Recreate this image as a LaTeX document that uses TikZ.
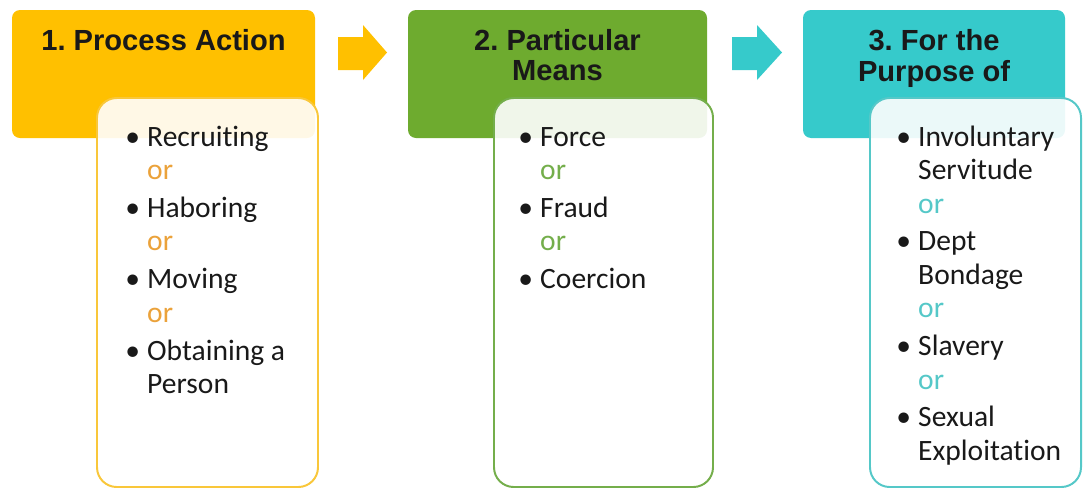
\documentclass[tikz,border=0pt]{standalone}
\usepackage{fontspec}
\setmainfont{Carlito}[Ligatures={NoCommon,NoContextual}]
\setsansfont{Liberation Sans}
\frenchspacing

\definecolor{gold}{HTML}{FFC000}
\definecolor{goldline}{HTML}{F9C73A}
\definecolor{goldor}{HTML}{EBA23A}
\definecolor{leaf}{HTML}{6EAB2F}
\definecolor{leafline}{HTML}{74AE4B}
\definecolor{aqua}{HTML}{36CACB}
\definecolor{aqualine}{HTML}{55C8C8}

\newcommand{\itm}[1]{\makebox[15.6pt][l]{\textbullet}#1}
\newcommand{\cont}[1]{\hspace*{15.6pt}#1}
\newcommand{\orw}[1]{\hspace*{15.6pt}\textcolor{#1}{or}}

\begin{document}
\begin{tikzpicture}[x=0.025cm,y=-0.025cm,
  head/.style={rounded corners=5.7pt},
  panel/.style={rounded corners=14pt, line width=1.4pt, fill=white, fill opacity=.9},
  headtext/.style={anchor=north, inner sep=0pt, align=center, text=black!90,
    font=\sffamily\bfseries\fontsize{20.7}{21.3}\selectfont},
  listtext/.style={anchor=north west, inner sep=0pt, align=left, text=black!90,
    font=\fontsize{21}{23.75}\selectfont}]

\useasboundingbox (0,0) rectangle (1083,489);

% step 1
\fill[gold, head] (12,10) rectangle (315,138);
\draw[panel, draw=goldline] (97,98) rectangle (318,487);
\node[headtext] (h1) at (163.5,29) {\strut 1. Process Action};
\node[listtext] (l1) at (125,122.6) {\strut\itm{Recruiting}\\ \orw{goldor}\\[3.2pt]
  \itm{Haboring}\\ \orw{goldor}\\[3.2pt]
  \itm{Moving}\\ \orw{goldor}\\[3.2pt]
  \itm{Obtaining a}\\ \cont{Person}};

% arrow 1
\fill[gold] (338,37) -- (363,37) -- (363,25) -- (387,52.5) -- (363,80) -- (363,70) -- (338,70) -- cycle;

% step 2
\fill[leaf, head] (408,10) rectangle (707,138);
\draw[panel, draw=leafline] (494,98) rectangle (713,487);
\node[headtext] (h2) at (557.5,29) {\strut 2. Particular\\ Means};
\node[listtext] (l2) at (518,122.6) {\strut\itm{Force}\\ \orw{leafline}\\[3.2pt]
  \itm{Fraud}\\ \orw{leafline}\\[3.2pt]
  \itm{Coercion}};

% arrow 2
\fill[aqua] (732,37) -- (757,37) -- (757,25) -- (782,52.5) -- (757,80) -- (757,70) -- (732,70) -- cycle;

% step 3
\fill[aqua, head] (803,10) rectangle (1065,138);
\draw[panel, draw=aqualine] (870,98) rectangle (1081,487);
\node[headtext] (h3) at (934,29) {\strut 3. For the\\ Purpose of};
\node[listtext] (l3) at (896,122.6) {\strut\itm{Involuntary}\\ \cont{Servitude}\\ \orw{aqualine}\\[3.2pt]
  \itm{Dept}\\ \cont{Bondage}\\ \orw{aqualine}\\[3.2pt]
  \itm{Slavery}\\ \orw{aqualine}\\[3.2pt]
  \itm{Sexual}\\ \cont{Exploitation}};

\end{tikzpicture}
\end{document}
